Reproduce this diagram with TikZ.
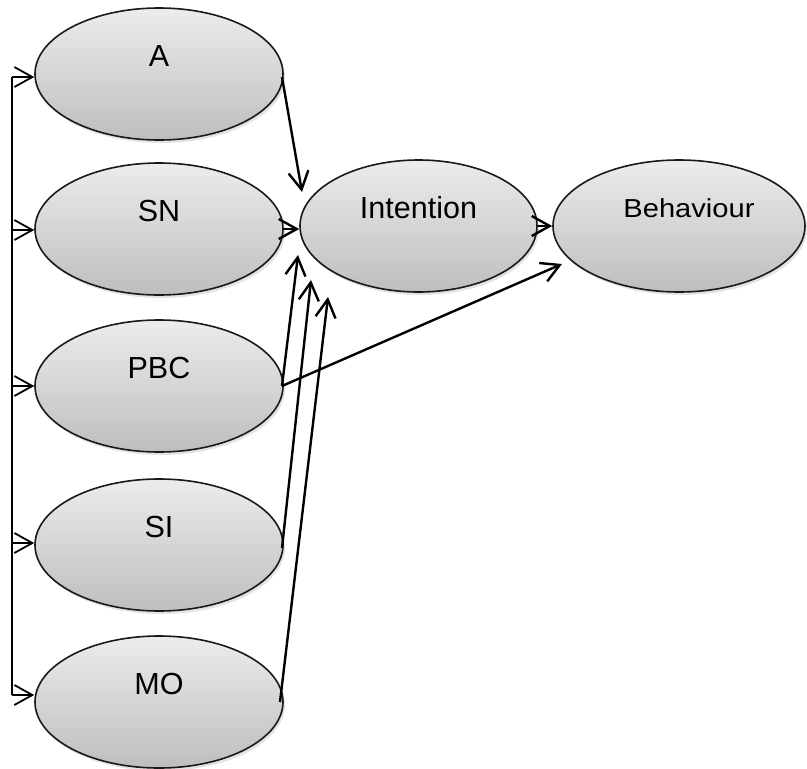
\documentclass[tikz,border=0pt]{standalone}
\usepackage{fontspec}
\setmainfont{Liberation Sans}
\usetikzlibrary{arrows.meta,shapes.geometric,shadows}
\definecolor{shadetop}{RGB}{236,236,236}
\definecolor{shadebot}{RGB}{190,190,190}
\begin{document}
\begin{tikzpicture}[x=1pt,y=-1pt,
  construct/.style={ellipse,draw=black!90,line width=1.6pt,inner sep=0pt,
    minimum width=248pt,minimum height=132pt,
    top color=shadetop,bottom color=shadebot,
    drop shadow={opacity=0.22,shadow xshift=2pt,shadow yshift=-3pt}},
  lbl/.style={font=\fontsize{30.5}{36}\selectfont,yshift=18pt},
  tip/.style={-{Straight Barb[length=18pt,width=20pt]}},
  link/.style={line width=2.4pt,tip},
  bus/.style={line width=1.8pt}]
\useasboundingbox (0,0) rectangle (807,769);

% predictors
\node[construct,label={[lbl]center:A}]   (A)   at (159,74)  {};
\node[construct,label={[lbl]center:SN}]  (SN)  at (159,229) {};
\node[construct,label={[lbl]center:PBC}] (PBC) at (159,386) {};
\node[construct,label={[lbl]center:SI}]  (SI)  at (159,545) {};
\node[construct,label={[lbl]center:MO}]  (MO)  at (159,702) {};

% outcomes
\node[construct,minimum width=237pt,label={[lbl]center:Intention}] (INT) at (418.5,226) {};
\node[construct,minimum width=252pt,
  label={[xshift=10pt,yshift=18pt,font=\fontsize{26}{30}\selectfont]center:\scalebox{1.12}[1]{Behaviour}}] (BEH) at (679,226) {};

% feedback bus on the left
\coordinate (bA)   at (12,77);
\coordinate (bSN)  at (12,230);
\coordinate (bPBC) at (12,386);
\coordinate (bSI)  at (12,543);
\coordinate (bMO)  at (12,695);
\draw[bus] (bA) -- (bMO);
\foreach \b/\n in {bA/A,bSN/SN,bPBC/PBC,bSI/SI,bMO/MO}
  \draw[bus,tip] (\b) -- (\b -| \n.west);

% start points on the right side of the predictors
\coordinate (sA)   at (282,77);
\coordinate (sPBC) at (282,386);
\coordinate (sSI)  at (282,548);
\coordinate (sMO)  at (280,702);

% arrow tips near Intention and Behaviour
\coordinate (tA)   at (302,192);
\coordinate (tPBC) at (298,255);
\coordinate (tSI)  at (311,280);
\coordinate (tMO)  at (328,297);
\coordinate (tPB)  at (562,264);

\draw[link] (sA) -- (tA);
\draw[link] (SN.east) -- (SN.east -| INT.west);
\draw[link] (sPBC) -- (tPBC);
\draw[link] (sSI) -- (tSI);
\draw[link] (sMO) -- (tMO);
\draw[link] (sPBC) -- (tPB);
\draw[link] (INT.east) -- (BEH.west);
\end{tikzpicture}
\end{document}
